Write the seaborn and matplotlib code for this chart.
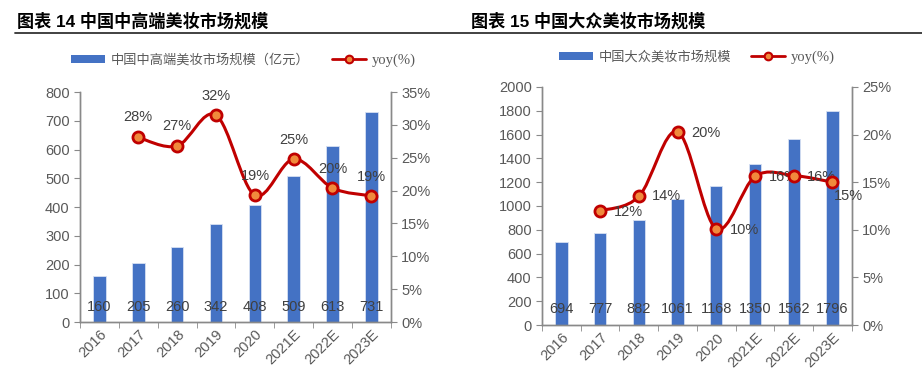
import numpy as np
import pandas as pd
import seaborn as sns
import matplotlib.pyplot as plt
from matplotlib.path import Path
from matplotlib.patches import PathPatch, Patch
from matplotlib.lines import Line2D
from matplotlib.ticker import FuncFormatter, FixedLocator

years = ['2016', '2017', '2018', '2019', '2020', '2021E', '2022E', '2023E']

# chart 14: high-end cosmetics market (100m yuan) and yoy (%)
high_end = [160, 205, 260, 342, 408, 509, 613, 731]
high_yoy = [None, 28.1, 26.8, 31.5, 19.3, 24.8, 20.4, 19.2]
high_yoy_labels = ['', '28%', '27%', '32%', '19%', '25%', '20%', '19%']

# chart 15: mass cosmetics market and yoy (%)
mass = [694, 777, 882, 1061, 1168, 1350, 1562, 1796]
mass_yoy = [None, 12.0, 13.5, 20.3, 10.1, 15.6, 15.7, 15.0]
mass_yoy_labels = ['', '12%', '14%', '20%', '10%', '16%', '16%', '15%']

BLUE = '#4472C4'
RED = '#C00000'
ORANGE = '#F08A3C'
GRAY = '#898989'
TXT = '#595959'

sns.set_style('white')
plt.rcParams['font.family'] = ['Liberation Sans', 'Noto Sans CJK SC', 'DejaVu Sans']


def smooth_path(xs, ys):
    # excel-like smoothed line (catmull-rom as bezier)
    pts = list(zip(xs, ys))
    verts = [pts[0]]
    codes = [Path.MOVETO]
    n = len(pts)
    for i in range(n - 1):
        p0 = pts[i - 1] if i > 0 else pts[i]
        p1 = pts[i]
        p2 = pts[i + 1]
        p3 = pts[i + 2] if i + 2 < n else pts[i + 1]
        c1 = (p1[0] + (p2[0] - p0[0]) / 6, p1[1] + (p2[1] - p0[1]) / 6)
        c2 = (p2[0] - (p3[0] - p1[0]) / 6, p2[1] - (p3[1] - p1[1]) / 6)
        verts += [c1, c2, p2]
        codes += [Path.CURVE4] * 3
    return Path(verts, codes)


def panel(rect, values, yoy, yoy_labels, ymax, ystep, pmax, label_y, offsets):
    ax = fig.add_axes(rect)
    df = pd.DataFrame({'year': years, 'value': values})
    sns.barplot(data=df, x='year', y='value', color=BLUE, width=0.32,
                saturation=1, edgecolor='#D6E0F2', linewidth=0.6, ax=ax)
    ax.set_xlim(-0.5, len(years) - 0.5)
    ax.set_ylim(0, ymax)
    ax.set_yticks(np.arange(0, ymax + 1, ystep))
    ax.set_xlabel('')
    ax.set_ylabel('')
    for i, v in enumerate(values):
        ax.text(i, label_y, str(v), ha='center', va='center',
                fontsize=10.5, color='#404040')

    ax2 = ax.twinx()
    ax2.set_ylim(0, pmax)
    ax2.set_yticks(np.arange(0, pmax + 0.1, 5))
    ax2.yaxis.set_major_formatter(FuncFormatter(lambda v, p: f'{v:.0f}%'))
    xs = [i for i, v in enumerate(yoy) if v is not None]
    ys = [v for v in yoy if v is not None]
    ax2.add_patch(PathPatch(smooth_path(xs, ys), fill=False, edgecolor=RED,
                            lw=2.2, zorder=3))
    ax2.plot(xs, ys, ls='none', marker='o', ms=8, mfc=ORANGE, mec=RED,
             mew=2, zorder=4)
    for i, lab in enumerate(yoy_labels):
        if lab:
            dx, dy = offsets[i]
            ax2.annotate(lab, (i, yoy[i]), xytext=(dx, dy),
                         textcoords='offset pixels', ha='center',
                         va='center', fontsize=10.5, color='#404040')

    for a in (ax, ax2):
        a.spines['top'].set_visible(False)
        for s in ['left', 'right', 'bottom']:
            a.spines[s].set_color(GRAY)
            a.spines[s].set_linewidth(1)
    ax.tick_params(axis='y', length=4, color=GRAY, labelsize=10.5,
                   labelcolor=TXT, left=True, direction='out')
    ax2.tick_params(axis='y', length=4, color=GRAY, labelsize=10.5,
                    labelcolor=TXT, right=True, direction='out')
    ax.tick_params(axis='x', which='major', length=0, labelsize=10.5,
                   labelcolor=TXT, pad=4)
    ax.xaxis.set_minor_locator(FixedLocator(np.arange(-0.5, len(years), 1)))
    ax.tick_params(axis='x', which='minor', length=4, color=GRAY,
                   bottom=True)
    for t in ax.get_xticklabels():
        t.set_rotation(45)
        t.set_ha('right')
        t.set_rotation_mode('anchor')
    return ax


fig = plt.figure(figsize=(9.22, 3.72), dpi=100)

panel([0.0868, 0.1344, 0.337, 0.618], high_end, high_yoy, high_yoy_labels,
      800, 100, 35, 52,
      [None, (0, 20), (0, 20), (0, 19), (1, 19), (0, 19), (0, 19), (0, 19)])
panel([0.5879, 0.1263, 0.336, 0.640], mass, mass_yoy, mass_yoy_labels,
      2000, 200, 25, 132,
      [None, (28, -1), (28, 0), (28, -1), (28, -1), (28, -1), (28, -1), (16, -14)])

# titles and rule line
fig.text(17 / 922, 1 - 21 / 372, '图表 14 中国中高端美妆市场规模', fontsize=12.3,
         fontweight='bold', va='center', ha='left', color='black')
fig.text(471 / 922, 1 - 21 / 372, '图表 15 中国大众美妆市场规模', fontsize=12.3,
         fontweight='bold', va='center', ha='left', color='black')
fig.add_artist(Line2D([15 / 922, 922 / 922], [1 - 33 / 372] * 2, color='#333333', lw=1.3))


# legends
def legend(x, y, bar_label, gap):
    handles = [Patch(facecolor=BLUE, edgecolor='none'),
               Line2D([], [], color=RED, lw=2, marker='o', ms=5.5,
                      mfc=ORANGE, mec=RED, mew=1.5)]
    leg = fig.legend(handles, [bar_label, 'yoy(%)'], loc='center left',
                     bbox_to_anchor=(x, y), ncol=2, frameon=False,
                     fontsize=9.5, handlelength=2.6, handleheight=0.55,
                     columnspacing=gap, handletextpad=0.4,
                     labelcolor=TXT, borderaxespad=0, borderpad=0)
    t = leg.get_texts()[1]
    t.set_fontfamily('Liberation Serif')
    t.set_fontsize(10.5)
    return leg

legend(71 / 922, 1 - 60 / 372, '中国中高端美妆市场规模（亿元）', 1.7)
legend(559 / 922, 1 - 57 / 372, '中国大众美妆市场规模', 1.5)

fig.savefig('out.png', dpi=100)
